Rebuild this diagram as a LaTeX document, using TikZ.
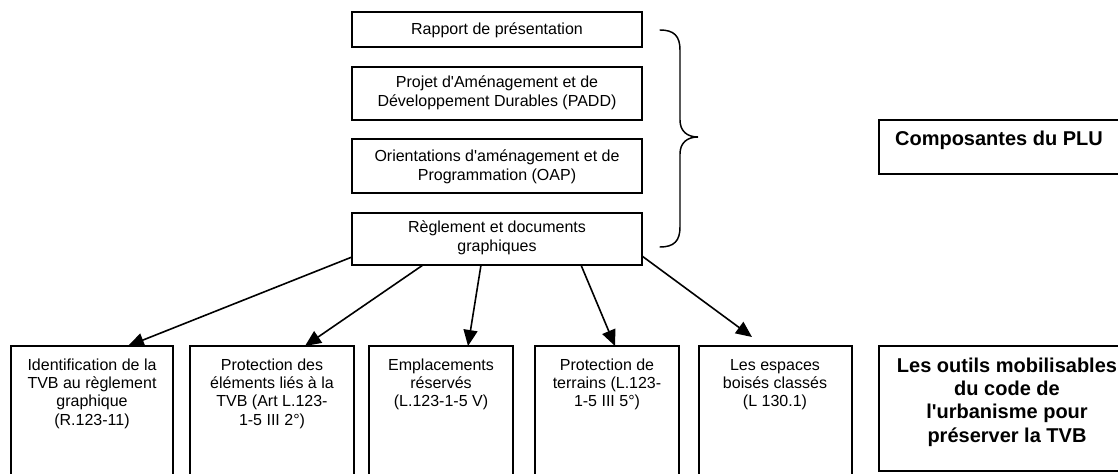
\documentclass[tikz,border=0pt]{standalone}
\usepackage{fontspec}
\setmainfont{Liberation Sans}[Ligatures=TeXOff]
\usetikzlibrary{arrows.meta,fit}
\newcommand{\toplines}[1]{\begin{tabular}[t]{@{}c@{}}#1\end{tabular}}
\tikzset{
  box/.style={draw=black,line width=1.1pt,inner sep=0pt,fill=white},
  txt/.style={inner sep=0pt,anchor=base,font=\fontsize{12pt}{13.75pt}\selectfont},
  btxt/.style={inner sep=0pt,anchor=base,font=\fontsize{15pt}{17.6pt}\selectfont\bfseries},
  link/.style={line width=1.2pt,-{Triangle[length=12pt,width=10.5pt]}},
  bracepath/.style={line width=1.1pt,line cap=round}
}
\begin{document}
\begin{tikzpicture}[x=0.75pt,y=-0.75pt]
\useasboundingbox (0,0) rectangle (1118,474);
\fill[white] (0,0) rectangle (1118,474);
\clip (0,0) rectangle (1118,474);
% upper column
\node[box,fit={(352,12) (642,47)}] (rapport) {};
\node[box,fit={(352,67) (642,120)}] (padd) {};
\node[box,fit={(352,139) (642,193)}] (oap) {};
\node[box,fit={(352,213) (642,265)}] (regl) {};
\node[txt] (rapportT) at (497,35) {\toplines{Rapport de présentation}};
\node[txt] (paddT) at (497,88) {\toplines{Projet d'Aménagement et de\\Développement Durables (PADD)}};
\node[txt] (oapT) at (497,162) {\toplines{Orientations d'aménagement et de\\Programmation (OAP)}};
\node[txt] (reglT) at (497,233) {\toplines{Règlement et documents\\graphiques}};
% brace
\draw[bracepath] (660,30) .. controls (674,30) and (680,36) .. (680,50)
  -- (680,120) .. controls (680,131) and (687,137) .. (698,137)
  .. controls (687,137) and (680,143) .. (680,154)
  -- (680,227) .. controls (680,241) and (674,247) .. (660,247);
% composantes
\node[box,fit={(879,120) (1130,174)}] (comp) {};
\node[btxt] (compT) at (999,146) {\toplines{Composantes du PLU}};
% bottom row
\node[box,fit={(11,346) (173,490)}] (b1) {};
\node[box,fit={(190,346) (354,490)}] (b2) {};
\node[box,fit={(369,346) (513,490)}] (b3) {};
\node[box,fit={(535,346) (679,490)}] (b4) {};
\node[box,fit={(699,346) (852,490)}] (b5) {};
\node[box,fit={(879,346) (1140,471)}] (outils) {};
\node[txt] (b1T) at (92,370) {\toplines{Identification de la\\TVB au règlement\\graphique\\(R.123-11)}};
\node[txt] (b2T) at (272,370) {\toplines{Protection des\\éléments liés à la\\TVB (Art L.123-\\1-5 III 2°)}};
\node[txt] (b3T) at (441,370) {\toplines{Emplacements\\réservés\\(L.123-1-5 V)}};
\node[txt] (b4T) at (607,370) {\toplines{Protection de\\terrains (L.123-\\1-5 III 5°)}};
\node[txt] (b5T) at (775,370) {\toplines{Les espaces\\boisés classés\\(L 130.1)}};
\node[btxt] (outilsT) at (1007,372) {\toplines{Les outils mobilisables\\du code de\\l'urbanisme pour\\préserver la TVB}};
% connectors
\coordinate (s1) at (352,257);
\coordinate (s2) at (423,265);
\coordinate (s3) at (481,265);
\coordinate (s4) at (581,265);
\coordinate (s5) at (642,256);
\coordinate (e1) at (128,346);
\coordinate (e2) at (305,346);
\coordinate (e3) at (468,346);
\coordinate (e4) at (615,346);
\coordinate (e5) at (752,337);
\draw[link] (s1) -- (e1);
\draw[link] (s2) -- (e2);
\draw[link] (s3) -- (e3);
\draw[link] (s4) -- (e4);
\draw[link] (s5) -- (e5);
\end{tikzpicture}
\end{document}
